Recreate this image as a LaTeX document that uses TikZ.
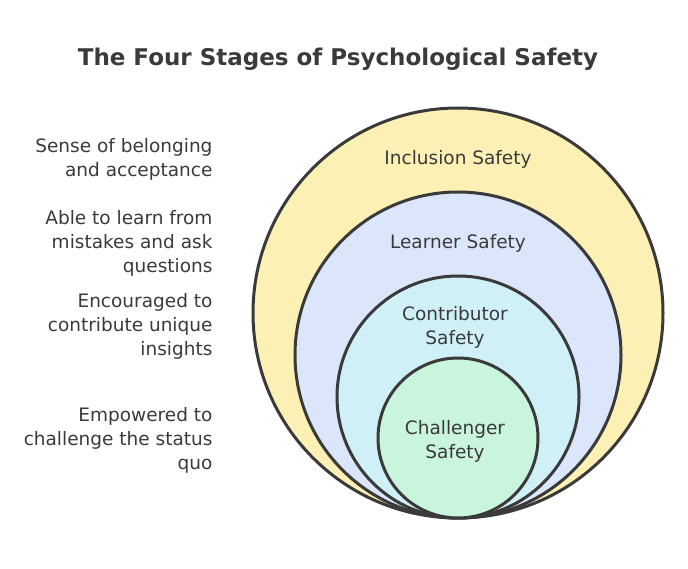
\documentclass[tikz,border=0pt]{standalone}
\usepackage{fontspec}
\setmainfont{DejaVu Sans}
\usetikzlibrary{positioning}
\definecolor{incl}{HTML}{FCF0B4}
\definecolor{lern}{HTML}{DCE6FB}
\definecolor{cont}{HTML}{D0F0F8}
\definecolor{chal}{HTML}{C8F5DC}
\definecolor{ink}{HTML}{3A3A3A}
\begin{document}
\begin{tikzpicture}[x=1pt,y=-1pt]
    \tikzstyle{ring}=[draw=ink, line width=3pt]
    \tikzstyle{label}=[text=ink, font=\fontsize{18.5}{24}\selectfont, align=center]
    \tikzstyle{side}=[label, align=right, anchor=east]

    \useasboundingbox (0,0) rectangle (688,569);

    % Title
    \node[text=ink, font=\fontsize{23}{27}\selectfont\bfseries] (title) at (338,59) {The Four Stages of Psychological Safety};

    % Nested circles, all touching at the bottom
    \fill[incl] (458,313) circle (205);
    \draw[ring] (458,313) circle (205);
    \fill[lern] (458,355) circle (163);
    \draw[ring] (458,355) circle (163);
    \fill[cont] (458,397) circle (121);
    \draw[ring] (458,397) circle (121);
    \fill[chal] (458,438) circle (80);
    \draw[ring] (458,438) circle (80);

    % Circle labels
    \node[label] (IS) at (458,159) {Inclusion Safety};
    \node[label] (LS) at (458,243) {Learner Safety};
    \node[label] (CS) at (455,327) {Contributor\\Safety};
    \node[label] (XS) at (455,441) {Challenger\\Safety};

    % Descriptions
    \node[side] (ISd) at (216,159) {Sense of belonging\\and acceptance};
    \node[side] (LSd) at (216,243) {Able to learn from\\mistakes and ask\\questions};
    \node[side] (CSd) at (216,326) {Encouraged to\\contribute unique\\insights};
    \node[side] (XSd) at (216,440) {Empowered to\\challenge the status\\quo};
\end{tikzpicture}
\end{document}
